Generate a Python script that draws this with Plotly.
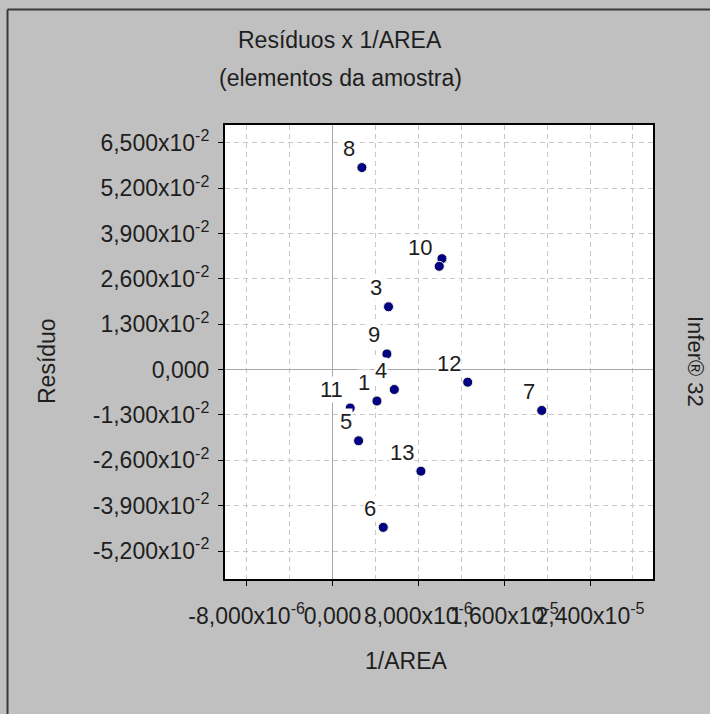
import plotly.graph_objects as go

# ---- data ----
point_labels = ["1", "2", "3", "4", "5", "6", "7", "8", "9", "10", "11", "12", "13"]
inv_area = [4.14e-6, 10.2e-6, 5.22e-6, 5.76e-6, 2.43e-6, 4.73e-6, 19.5e-6,
            2.74e-6, 5.07e-6, 9.95e-6, 1.65e-6, 12.6e-6, 8.24e-6]
residuo = [-0.0090, 0.0318, 0.0180, -0.0057, -0.0204, -0.0452, -0.0117,
           0.0579, 0.0045, 0.0296, -0.0110, -0.0036, -0.0291]
# label of point 2 is hidden under the "10" label in the reference
hidden_labels = ["2"]

y_tickvals = [0.065, 0.052, 0.039, 0.026, 0.013, 0.0, -0.013, -0.026, -0.039, -0.052]
y_ticktext = ["6,500x10<sup>-2</sup>", "5,200x10<sup>-2</sup>", "3,900x10<sup>-2</sup>",
              "2,600x10<sup>-2</sup>", "1,300x10<sup>-2</sup>", "0,000",
              "-1,300x10<sup>-2</sup>", "-2,600x10<sup>-2</sup>",
              "-3,900x10<sup>-2</sup>", "-5,200x10<sup>-2</sup>"]
x_tickvals = [-8e-6, 0.0, 8e-6, 1.6e-5, 2.4e-5]
x_ticktext = ["-8,000x10<sup>-6</sup>", "0,000", "8,000x10<sup>-6</sup>",
              "1,600x10<sup>-5</sup>", "2,400x10<sup>-5</sup>"]

title_text = "Resíduos x 1/AREA"
subtitle_text = "(elementos da amostra)"
x_title = "1/AREA"
y_title = "Resíduo"
side_text = "Infer® 32"

FONT = "Arial, Liberation Sans, sans-serif"
TXT = "#1e1e1e"
BG = "#c0c0c0"
GRID = "#c8c8c8"

fig = go.Figure()
fig.add_trace(go.Scatter(
    x=inv_area, y=residuo, mode="markers",
    marker=dict(size=10, color="#000080", line=dict(width=1, color="#f4f4d0")),
    hoverinfo="skip", showlegend=False,
))

annotations = []
for lab, xv, yv in zip(point_labels, inv_area, residuo):
    if lab in hidden_labels:
        continue
    annotations.append(dict(
        x=xv, y=yv, xref="x", yref="y", text=lab, showarrow=False,
        xanchor="right", yanchor="middle", xshift=-6, yshift=19,
        bgcolor="white", borderpad=0,
        font=dict(family=FONT, size=22, color=TXT),
    ))

# chart titles and side texts (paper coordinates relative to plot area)
L, R, T, B = 225, 57, 125, 135
W, H = 710, 714
pw, ph = W - L - R, H - T - B


def px_x(px):
    return (px - L) / pw


def px_y(py):
    return (H - B - py) / ph


annotations += [
    dict(x=px_x(340), y=px_y(40), xref="paper", yref="paper", text=title_text,
         showarrow=False, xanchor="center", yanchor="middle",
         font=dict(family=FONT, size=23, color=TXT)),
    dict(x=px_x(340), y=px_y(78), xref="paper", yref="paper", text=subtitle_text,
         showarrow=False, xanchor="center", yanchor="middle",
         font=dict(family=FONT, size=23, color=TXT)),
    dict(x=px_x(406), y=px_y(661), xref="paper", yref="paper", text=x_title,
         showarrow=False, xanchor="center", yanchor="middle",
         font=dict(family=FONT, size=23, color=TXT)),
    dict(x=px_x(47), y=px_y(361), xref="paper", yref="paper", text=y_title,
         showarrow=False, xanchor="center", yanchor="middle", textangle=-90,
         font=dict(family=FONT, size=23, color=TXT)),
    dict(x=px_x(696), y=px_y(361), xref="paper", yref="paper", text=side_text,
         showarrow=False, xanchor="center", yanchor="middle", textangle=90,
         font=dict(family=FONT, size=22, color=TXT)),
]

shapes = [
    dict(type="line", xref="paper", yref="paper", x0=px_x(7.5), x1=px_x(712),
         y0=px_y(9.5), y1=px_y(9.5), line=dict(color="#3a3a3a", width=2)),
    dict(type="line", xref="paper", yref="paper", x0=px_x(7.5), x1=px_x(7.5),
         y0=px_y(9.5), y1=px_y(716), line=dict(color="#3a3a3a", width=2)),
]

fig.update_layout(
    width=W, height=H,
    margin=dict(l=L, r=R, t=T, b=B, autoexpand=False),
    paper_bgcolor=BG, plot_bgcolor="white",
    font=dict(family=FONT, size=23, color=TXT),
    annotations=annotations, shapes=shapes,
    showlegend=False,
)

fig.update_xaxes(
    range=[-10.02e-6, 29.87e-6], tickmode="array",
    tickvals=x_tickvals, ticktext=x_ticktext, tickangle=0,
    ticks="outside", ticklen=5, tickwidth=1, tickcolor="black",
    ticklabelstandoff=10,
    showline=True, linecolor="black", linewidth=2, mirror=True,
    showgrid=True, gridcolor=GRID, griddash="5px,4px", gridwidth=1,
    zeroline=True, zerolinecolor="#a8a8a8", zerolinewidth=1,
    minor=dict(tickmode="linear", tick0=0, dtick=4e-6, showgrid=True,
               gridcolor=GRID, griddash="5px,4px", gridwidth=1, ticks=""),
    tickfont=dict(family=FONT, size=23, color=TXT),
    automargin=False,
)
fig.update_yaxes(
    range=[-0.0600, 0.0701], tickmode="array",
    tickvals=y_tickvals, ticktext=y_ticktext,
    ticks="outside", ticklen=5, tickwidth=1, tickcolor="black",
    ticklabelstandoff=4,
    showline=True, linecolor="black", linewidth=2, mirror=True,
    showgrid=True, gridcolor=GRID, griddash="5px,4px", gridwidth=1,
    zeroline=True, zerolinecolor="#a8a8a8", zerolinewidth=1,
    tickfont=dict(family=FONT, size=23, color=TXT),
    automargin=False,
)

fig.write_html("out.html", config={"displayModeBar": False},
               post_script="document.body.style.margin='0';")
